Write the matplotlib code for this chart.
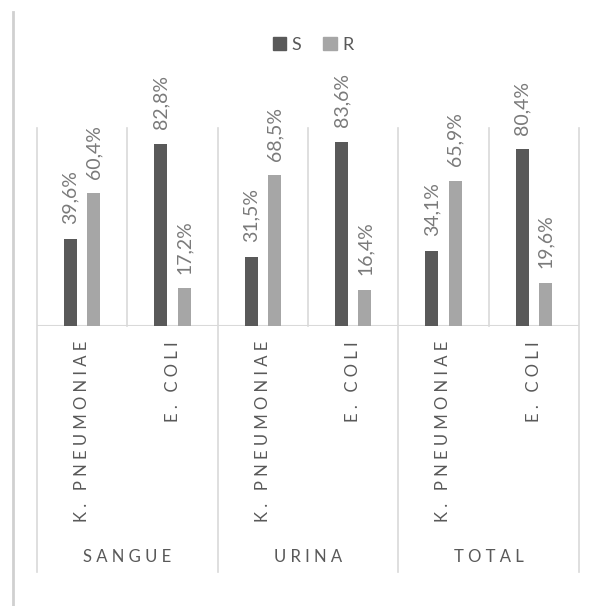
import matplotlib
matplotlib.use("Agg")
import matplotlib.pyplot as plt
from matplotlib.lines import Line2D
from matplotlib.patches import Patch
import matplotlib.transforms as mtransforms

plt.rcParams['font.family'] = ['Lato', 'DejaVu Sans']

groups = ["SANGUE", "URINA", "TOTAL"]
categories = ["K. PNEUMONIAE", "E. COLI", "K. PNEUMONIAE", "E. COLI", "K. PNEUMONIAE", "E. COLI"]
series_names = ["S", "R"]
s_values = [39.6, 82.8, 31.5, 83.6, 34.1, 80.4]
r_values = [60.4, 17.2, 68.5, 16.4, 65.9, 19.6]

S_COLOR = "#595959"
R_COLOR = "#a6a6a6"
GRID = "#d9d9d9"
LABEL_C = "#7a7a7a"
TEXT_C = "#595959"

W, H = 600, 606
fig = plt.figure(figsize=(W / 100, H / 100), dpi=100)
fig.patch.set_facecolor("white")

def fy(py):
    return 1 - py / H

ax = fig.add_axes([37 / W, fy(326), 542 / W, 198 / H])
ax.set_xlim(-0.5, len(categories) - 0.5)
ax.set_ylim(0, 90)
for sp in ax.spines.values():
    sp.set_visible(False)
ax.set_xticks([])
ax.set_yticks([])

x = list(range(len(categories)))
off, bw = 0.13, 0.145
ax.bar([i - off for i in x], s_values, width=bw, color=S_COLOR, zorder=3)
ax.bar([i + off for i in x], r_values, width=bw, color=R_COLOR, zorder=3)

def fmt(v):
    return f"{v:.1f}".replace(".", ",") + "%"

for i in x:
    for xx, v in ((i - off, s_values[i]), (i + off, r_values[i])):
        ax.annotate(fmt(v), (xx, v), xytext=(0, 10.5), textcoords="offset points",
                    rotation=90, ha="center", va="bottom", fontsize=14,
                    color=LABEL_C, zorder=4)

trans = mtransforms.blended_transform_factory(ax.transData, ax.transAxes)
low = (326 - 572) / 198
for xv in [-0.5, 1.5, 3.5, 5.5]:
    ax.plot([xv, xv], [low, 1], color=GRID, lw=1.2, transform=trans, clip_on=False, zorder=1)
for xv in [0.5, 2.5, 4.5]:
    ax.plot([xv, xv], [0, 1], color=GRID, lw=1.2, transform=trans, clip_on=False, zorder=1)
ax.axhline(0, color=GRID, lw=1.5, zorder=2)

def spaced(s):
    return " ".join(list(s))

cat_y = -(341 - 326) / 198
for i, c in enumerate(categories):
    ax.text(i, cat_y, spaced(c), transform=trans, rotation=90, ha="center", va="top",
            fontsize=12, color=TEXT_C)

grp_y = -(557 - 326) / 198
for g, name in enumerate(groups):
    ax.text(2 * g + 0.5, grp_y, spaced(name), transform=trans, ha="center", va="center",
            fontsize=12, color=TEXT_C)

fig.add_artist(Line2D([13 / W, 13 / W], [fy(12), 0], color="#d0d0d0", lw=2))

handles = [Patch(color=S_COLOR), Patch(color=R_COLOR)]
fig.legend(handles, series_names, loc="center", bbox_to_anchor=(313 / W, fy(45)),
           ncol=2, frameon=False, fontsize=13, handlelength=0.75, handleheight=0.75,
           handletextpad=0.3, columnspacing=1.2, labelcolor=TEXT_C)

fig.savefig("out.png", dpi=100, facecolor="white")
